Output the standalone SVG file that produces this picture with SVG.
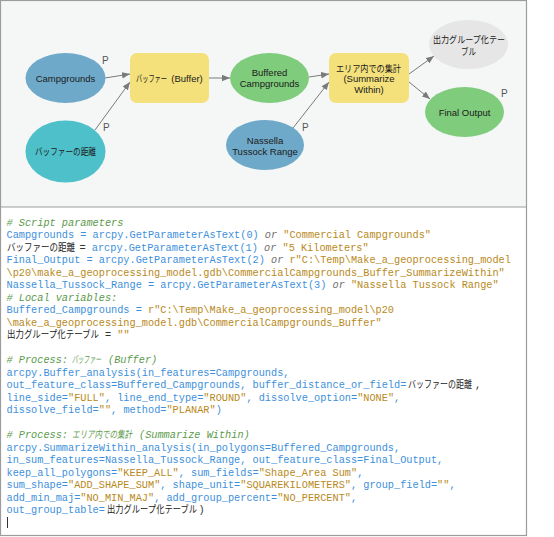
<svg xmlns="http://www.w3.org/2000/svg" width="554" height="537" viewBox="0 0 554 537">
<style>
.lbl{font-family:"Liberation Sans",Arial,sans-serif;font-size:9.5px;fill:#1a1a1a;text-anchor:middle}
.jl{font-family:"Noto Sans CJK JP",sans-serif;font-size:9.5px;fill:#1a1a1a}
.p{font-family:"Liberation Sans",Arial,sans-serif;font-size:10px;fill:#555}
.conn{stroke:#7a7a7a;stroke-width:1;fill:none;marker-end:url(#ah)}
.code{font-family:"Liberation Mono","Courier New",monospace;font-size:10.25px;white-space:pre;fill:#3d8fdc}
.c{fill:#5b9a4c;font-style:italic}
.s{fill:#b8891a}
.o{fill:#707070;font-style:italic}
.k{fill:#333}
.jc{font-family:"Noto Sans CJK JP",sans-serif;font-size:10px;fill:#222}
.jcc{font-family:"Noto Sans CJK JP",sans-serif;font-size:10px;fill:#5b9a4c;font-style:italic}
.blue{fill:#6fa9c9}.teal{fill:#4ec0ca}.green{fill:#80cc7d}.yellow{fill:#f4e17b}.grey{fill:#e6e6e6}
</style>
<defs>
<marker id="ah" markerUnits="userSpaceOnUse" markerWidth="9" markerHeight="7" refX="8" refY="3.25" orient="auto">
<path d="M0,0 L8,3.25 L0,6.5 z" fill="#7a7a7a"/>
</marker>
</defs>
<rect x="0.5" y="0.5" width="526" height="206.5" fill="#f5f7f7"/>
<rect x="0.5" y="207" width="526" height="328.5" fill="#ffffff"/>
<rect x="0.5" y="0.5" width="526" height="535" fill="none" stroke="#9c9c9c" stroke-width="1.2"/>
<line x1="0.5" y1="207" x2="526.5" y2="207" stroke="#9c9c9c" stroke-width="1.2"/>

<g id="connectors">
<line class="conn" x1="105" y1="78" x2="130" y2="74"/>
<line class="conn" x1="95" y1="130" x2="130" y2="82"/>
<line class="conn" x1="209" y1="78" x2="230" y2="78"/>
<line class="conn" x1="309" y1="77" x2="329" y2="74"/>
<line class="conn" x1="293" y1="128" x2="329" y2="82"/>
<line class="conn" x1="409" y1="74" x2="434" y2="56"/>
<line class="conn" x1="409" y1="82" x2="430" y2="99"/>
</g>

<g id="n-campgrounds">
<ellipse class="blue" cx="65.5" cy="78" rx="40" ry="25"/>
<text class="lbl" x="65.5" y="81.5">Campgrounds</text>
<text class="p" x="102" y="64">P</text>
</g>
<g id="n-buffer-distance">
<ellipse class="teal" cx="65.5" cy="151.5" rx="40" ry="31"/>
<text class="jl" x="35" y="155" textLength="61" lengthAdjust="spacingAndGlyphs">バッファーの距離</text>
<text class="p" x="103" y="131">P</text>
</g>
<g id="n-buffer">
<rect class="yellow" x="130" y="53" width="79" height="50" rx="7"/>
<text class="jl" x="136" y="82" textLength="31" lengthAdjust="spacingAndGlyphs">バッファー</text>
<text class="lbl" x="187" y="82">(Buffer)</text>
</g>
<g id="n-buffered">
<ellipse class="green" cx="269.5" cy="78" rx="39.5" ry="25"/>
<text class="lbl" x="269.5" y="75.5">Buffered</text>
<text class="lbl" x="269.5" y="86.5">Campgrounds</text>
</g>
<g id="n-nassella">
<ellipse class="blue" cx="265" cy="145" rx="39" ry="25"/>
<text class="lbl" x="265" y="143.5">Nassella</text>
<text class="lbl" x="265" y="154.5">Tussock Range</text>
<text class="p" x="302" y="130.5">P</text>
</g>
<g id="n-summarize">
<rect class="yellow" x="329" y="53" width="80" height="50" rx="7"/>
<text class="jl" x="336" y="71.5" textLength="65" lengthAdjust="spacingAndGlyphs">エリア内での集計</text>
<text class="lbl" x="369" y="82">(Summarize</text>
<text class="lbl" x="369" y="92.5">Within)</text>
</g>
<g id="n-group-table">
<ellipse class="grey" cx="468.5" cy="44.5" rx="39.5" ry="24.5"/>
<text class="jl" x="433" y="42.5" textLength="72" lengthAdjust="spacingAndGlyphs">出力グループ化テー</text>
<text class="jl" x="461" y="54.5" textLength="15" lengthAdjust="spacingAndGlyphs">ブル</text>
</g>
<g id="n-final">
<ellipse class="green" cx="464.5" cy="112" rx="39.5" ry="25"/>
<text class="lbl" x="464.5" y="115.5">Final Output</text>
<text class="p" x="501" y="97">P</text>
</g>

<g id="code">
<text class="code c" x="6.5" y="225.5"># Script parameters</text>
<text class="code" x="6.5" y="238">Campgrounds = arcpy.GetParameterAsText(0)<tspan class="o"> or </tspan><tspan class="s">"Commercial Campgrounds"</tspan></text>
<text class="jc" x="7" y="250.5" textLength="68" lengthAdjust="spacingAndGlyphs">バッファーの距離</text>
<text class="code" x="79.5" y="250.5"><tspan class="k">= </tspan>arcpy.GetParameterAsText(1)<tspan class="o"> or </tspan><tspan class="s">"5 Kilometers"</tspan></text>
<text class="code" x="6.5" y="263">Final_Output = arcpy.GetParameterAsText(2)<tspan class="o"> or </tspan><tspan class="s">r"C:\Temp\Make_a_geoprocessing_model</tspan></text>
<text class="code s" x="6.5" y="275.5">\p20\make_a_geoprocessing_model.gdb\CommercialCampgrounds_Buffer_SummarizeWithin"</text>
<text class="code" x="6.5" y="288">Nassella_Tussock_Range = arcpy.GetParameterAsText(3)<tspan class="o"> or </tspan><tspan class="s">"Nassella Tussock Range"</tspan></text>
<text class="code c" x="6.5" y="300.5"># Local variables:</text>
<text class="code" x="6.5" y="313">Buffered_Campgrounds = <tspan class="s">r"C:\Temp\Make_a_geoprocessing_model\p20</tspan></text>
<text class="code s" x="6.5" y="325.5">\make_a_geoprocessing_model.gdb\CommercialCampgrounds_Buffer"</text>
<text class="jc" x="7" y="338" textLength="92" lengthAdjust="spacingAndGlyphs">出力グループ化テーブル</text>
<text class="code" x="105" y="338"><tspan class="k">= </tspan><tspan class="s">""</tspan></text>

<text class="code c" x="6.5" y="363"># Process:</text>
<text class="jcc" x="72" y="363" textLength="29" lengthAdjust="spacingAndGlyphs">バッファー</text>
<text class="code c" x="108" y="363">(Buffer)</text>
<text class="code" x="6.5" y="375.5">arcpy.Buffer_analysis(in_features=Campgrounds,</text>
<text class="code" x="6.5" y="388">out_feature_class=Buffered_Campgrounds, buffer_distance_or_field=</text>
<text class="jc" x="408" y="388" textLength="64" lengthAdjust="spacingAndGlyphs">バッファーの距離</text>
<text class="code k" x="475" y="388">,</text>
<text class="code" x="6.5" y="400.5">line_side=<tspan class="s">"FULL"</tspan>, line_end_type=<tspan class="s">"ROUND"</tspan>, dissolve_option=<tspan class="s">"NONE"</tspan>,</text>
<text class="code" x="6.5" y="413">dissolve_field=<tspan class="s">""</tspan>, method=<tspan class="s">"PLANAR"</tspan>)</text>

<text class="code c" x="6.5" y="438"># Process:</text>
<text class="jcc" x="72" y="438" textLength="60" lengthAdjust="spacingAndGlyphs">エリア内での集計</text>
<text class="code c" x="139" y="438">(Summarize Within)</text>
<text class="code" x="6.5" y="450.5">arcpy.SummarizeWithin_analysis(in_polygons=Buffered_Campgrounds,</text>
<text class="code" x="6.5" y="463">in_sum_features=Nassella_Tussock_Range, out_feature_class=Final_Output,</text>
<text class="code" x="6.5" y="475.5">keep_all_polygons=<tspan class="s">"KEEP_ALL"</tspan>, sum_fields=<tspan class="s">"Shape_Area Sum"</tspan>,</text>
<text class="code" x="6.5" y="488">sum_shape=<tspan class="s">"ADD_SHAPE_SUM"</tspan>, shape_unit=<tspan class="s">"SQUAREKILOMETERS"</tspan>, group_field=<tspan class="s">""</tspan>,</text>
<text class="code" x="6.5" y="500.5">add_min_maj=<tspan class="s">"NO_MIN_MAJ"</tspan>, add_group_percent=<tspan class="s">"NO_PERCENT"</tspan>,</text>
<text class="code" x="6.5" y="513">out_group_table=</text>
<text class="jc" x="107" y="513" textLength="90" lengthAdjust="spacingAndGlyphs">出力グループ化テーブル</text>
<text class="code k" x="198.5" y="513">)</text>
<line x1="7.5" y1="517" x2="7.5" y2="528" stroke="#333" stroke-width="1"/>
</g>
</svg>
